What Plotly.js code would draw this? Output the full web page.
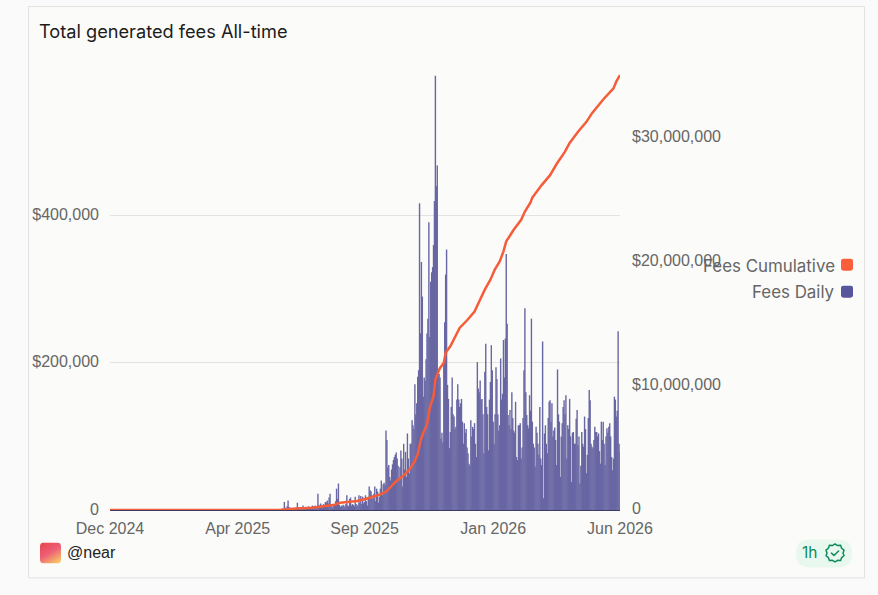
<!DOCTYPE html>
<html>
<head>
<meta charset="utf-8">
<script src="https://cdn.plot.ly/plotly-3.0.1.min.js"></script>
<style>html,body{margin:0;padding:0;background:#fafafa;overflow:hidden}</style>
</head>
<body>
<div id="chart" style="width:878px;height:595px"></div>
<script>
// Data
const seriesNames = ["Fees Cumulative", "Fees Daily"];
const chartTitle = "Total generated fees All-time";
const projectHandle = "@near";
const freshness = "1h";
const originDate = [2024, 11, 1];
const dailyFirstDay = 183;
// Fees Daily, thousand USD, one per day
const feesDailyK = [
1,1,2,1,11,3,2,5,13,4,
2,3,1,2,2,1,3,2,10,4,
2,3,3,2,6,3,2,4,3,2,
5,3,4,2,6,5,3,6,4,5,
22,7,5,9,3,6,8,5,11,10,
13,9,17,22,7,5,3,6,8,12,
29,15,36,7,4,6,5,7,6,4,
8,20,6,5,15,17,6,8,7,5,
18,8,5,7,20,10,19,8,18,9,
11,20,12,6,18,32,27,25,20,15,
22,32,12,29,25,10,18,29,40,20,
35,37,34,108,95,58,61,45,40,55,
62,68,72,75,78,70,60,40,58,81,
70,32,90,55,79,45,104,70,50,90,
90,122,115,110,171,130,145,181,190,417,
240,337,290,154,180,176,205,240,260,391,
235,310,323,330,360,420,590,440,468,192,
185,180,97,105,92,200,255,320,354,170,
151,84,
106,140,180,130,127,110,113,150,171,150,
140,145,151,120,90,118,105,110,85,77,
63,60,122,100,113,110,118,90,72,201,
165,160,176,150,151,130,77,188,226,140,
130,81,150,174,224,190,120,90,130,194,
178,130,108,115,206,150,158,231,180,233,
348,253,129,115,136,110,160,125,108,105,
147,72,68,115,115,118,70,85,125,190,
274,160,129,115,111,156,135,260,120,90,
85,59,113,105,90,75,140,70,61,229,
16,104,115,90,77,125,147,149,120,145,
100,108,112,95,61,191,130,120,45,100,
118,140,149,130,156,70,115,110,151,100,
38,105,106,90,90,124,136,88,100,36,
60,106,90,86,127,110,50,75,125,163,
149,90,86,84,95,113,106,106,100,104,
80,63,120,95,120,90,61,100,111,105,
113,118,100,72,54,70,154,150,127,135,
243,90,79
];
// Fees Cumulative, million USD, at the given day offsets
const cumulativeDays = [0,100,182,200,218,229,241,247,265,275,290,297,306,315,322,327,330,333,336,340,343,347,349,351,354,358,360,365,370,375,383,391,397,402,408,413,418,422,425,433,441,445,451,453,463,472,479,488,493,502,511,517,529,540,543,547];
const cumulativeM = [0,0,0,0.13,0.19,0.30,0.43,0.59,0.72,0.91,1.26,1.53,2.26,2.79,3.33,3.95,4.48,5.56,6.23,6.90,8.24,9.18,10.52,10.92,11.46,11.86,12.67,13.2,13.88,14.68,15.3,16.0,16.97,17.77,18.57,19.43,20.05,20.85,21.66,22.6,23.4,24.07,24.8,25.2,26.2,27.0,27.9,28.9,29.6,30.5,31.3,32.0,33.1,34.0,34.55,35.07];
const xTickDays = [0,137,273,411,547];
const xTickLabels = ["Dec 2024","Apr 2025","Sep 2025","Jan 2026","Jun 2026"];
const leftTicks = [0,200000,400000];
const leftTickLabels = ["0","$200,000","$400,000"];
const rightTicks = [0,10000000,20000000,30000000];
const rightTickLabels = ["0","$10,000,000","$20,000,000","$30,000,000"];

const dayToDate = d => new Date(Date.UTC(originDate[0], originDate[1], originDate[2] + d)).toISOString().slice(0,10);

// plot-area pixel frame
const L=110,R=620,T=70,B=510.5;
const px = x => (x-L)/(R-L);
const py = y => (B-y)/(B-T);

const avatar = 'data:image/svg+xml;utf8,' + encodeURIComponent(`<svg xmlns="http://www.w3.org/2000/svg" width="21" height="21"><defs><linearGradient id="g" x1="0.15" y1="0" x2="0.75" y2="1"><stop offset="0" stop-color="#e8484f"/><stop offset="0.5" stop-color="#ee5f76"/><stop offset="1" stop-color="#f8c468"/></linearGradient></defs><rect width="21" height="21" rx="4" fill="url(#g)"/></svg>`);
const badge = 'data:image/svg+xml;utf8,' + encodeURIComponent(`<svg xmlns="http://www.w3.org/2000/svg" width="20" height="20" viewBox="0 0 20 20" fill="none" stroke="#0f8a5f" stroke-width="1.5" stroke-linejoin="round" stroke-linecap="round"><path d="M10 1L12.6 2.6L15.6 2.4L16.6 5.3L19 7.2L18 10L19 12.8L16.6 14.7L15.6 17.6L12.6 17.4L10 19L7.4 17.4L4.4 17.6L3.4 14.7L1 12.8L2 10L1 7.2L3.4 5.3L4.4 2.4L7.4 2.6Z"/><path d="M6.5 10.2L9 12.6L13.6 8"/></svg>`);

const traces = [
 {type:"bar", name:seriesNames[1], x:feesDailyK.map((v,i)=>dayToDate(dailyFirstDay+i)), y:feesDailyK.map(v=>v*1000),
  width:86400000*1.5, marker:{color:"#6866a3", line:{width:0}}, yaxis:"y", hoverinfo:"x+y"},
 {type:"scatter", mode:"lines", name:seriesNames[0], x:cumulativeDays.map(dayToDate), y:cumulativeM.map(v=>v*1e6),
  line:{color:"#f55c3a", width:2.5}, yaxis:"y2", hoverinfo:"x+y", cliponaxis:false}
];
const tickFont = {family:"Liberation Sans, Arial, sans-serif", size:16, color:"#666666"};
const uiFont = "Inter, 'Noto Sans', sans-serif";
function rrPaper(x0,y0,x1,y1,r){
  const f=(x,y)=>`${px(x)},${py(y)}`;
  return `M${f(x0+r,y0)}L${f(x1-r,y0)}Q${f(x1,y0)} ${f(x1,y0+r)}L${f(x1,y1-r)}Q${f(x1,y1)} ${f(x1-r,y1)}L${f(x0+r,y1)}Q${f(x0,y1)} ${f(x0,y1-r)}L${f(x0,y0+r)}Q${f(x0,y0)} ${f(x0+r,y0)}Z`;
}
const layout = {
 width:878, height:595, showlegend:false, bargap:0,
 paper_bgcolor:"#fafafa", plot_bgcolor:"rgba(0,0,0,0)",
 margin:{l:L,r:878-R,t:T,b:595-B,pad:0},
 xaxis:{type:"date", range:[dayToDate(0),dayToDate(547)], tickmode:"array", tickvals:xTickDays.map(dayToDate), ticktext:xTickLabels,
   tickfont:tickFont, tickangle:0, showgrid:false, zeroline:false, showline:true, linecolor:"#3a3a63", linewidth:1, ticks:"", ticklabelstandoff:4},
 yaxis:{range:[0,597900], tickmode:"array", tickvals:leftTicks, ticktext:leftTickLabels, tickfont:tickFont,
   gridcolor:"#e2e2e0", gridwidth:1, zeroline:false, showline:false, ticks:"", ticklabelstandoff:10, ticklabelshift:-1},
 yaxis2:{range:[0,35480000], overlaying:"y", side:"right", tickmode:"array", tickvals:rightTicks, ticktext:rightTickLabels, tickfont:tickFont,
   showgrid:false, zeroline:false, showline:false, ticks:"", ticklabelstandoff:11, ticklabelshift:-2},
 shapes:[
  {type:"rect", xref:"x domain", yref:"y domain", layer:"below", x0:px(28.5), x1:px(864.5), y0:py(6.5), y1:py(578.5), fillcolor:"#fbfbf9", line:{color:"#e2e2e0", width:1}},
  {type:"path",xref:"x domain",yref:"y domain",layer:"below",path:rrPaper(796,540,852,568,14),fillcolor:"#e9f8ee",line:{width:0}},
  {type:"path",xref:"x domain",yref:"y domain",layer:"above",path:rrPaper(841,259,853,271,2.5),fillcolor:"#fb5e3a",line:{width:0}},
  {type:"path",xref:"x domain",yref:"y domain",layer:"above",path:rrPaper(841,286,853,298,2.5),fillcolor:"#57559b",line:{width:0}}
 ],
 annotations:[
  {xref:"paper",yref:"paper",x:px(37),y:py(31),xanchor:"left",yanchor:"middle",showarrow:false,text:chartTitle,font:{family:uiFont,size:18.2,color:"#1c1c1c"}},
  {xref:"paper",yref:"paper",x:px(837),y:py(266),xanchor:"right",yanchor:"middle",showarrow:false,text:seriesNames[0],font:{family:uiFont,size:16.9,color:"#666666"}},
  {xref:"paper",yref:"paper",x:px(837),y:py(292),xanchor:"right",yanchor:"middle",showarrow:false,text:seriesNames[1],font:{family:uiFont,size:16.9,color:"#666666"}},
  {xref:"paper",yref:"paper",x:px(65),y:py(553.5),xanchor:"left",yanchor:"middle",showarrow:false,text:projectHandle,font:{family:"Liberation Sans, Arial, sans-serif",size:16,color:"#222222"}},
  {xref:"paper",yref:"paper",x:px(800),y:py(553.5),xanchor:"left",yanchor:"middle",showarrow:false,text:freshness,font:{family:uiFont,size:15.5,color:"#0f8a5f"}}
 ],
 images:[
  {source:avatar,xref:"paper",yref:"paper",x:px(40),y:py(543),sizex:21/(R-L),sizey:21/(B-T),xanchor:"left",yanchor:"top",sizing:"stretch",layer:"above"},
  {source:badge,xref:"paper",yref:"paper",x:px(825),y:py(543.5),sizex:20/(R-L),sizey:20/(B-T),xanchor:"left",yanchor:"top",sizing:"stretch",layer:"above"}
 ]
};
Plotly.newPlot("chart", traces, layout, {displayModeBar:false, staticPlot:true}).then(()=>{
  document.querySelectorAll(".bars path").forEach(p=>{p.style.shapeRendering="geometricPrecision";});
});
</script>
</body>
</html>
